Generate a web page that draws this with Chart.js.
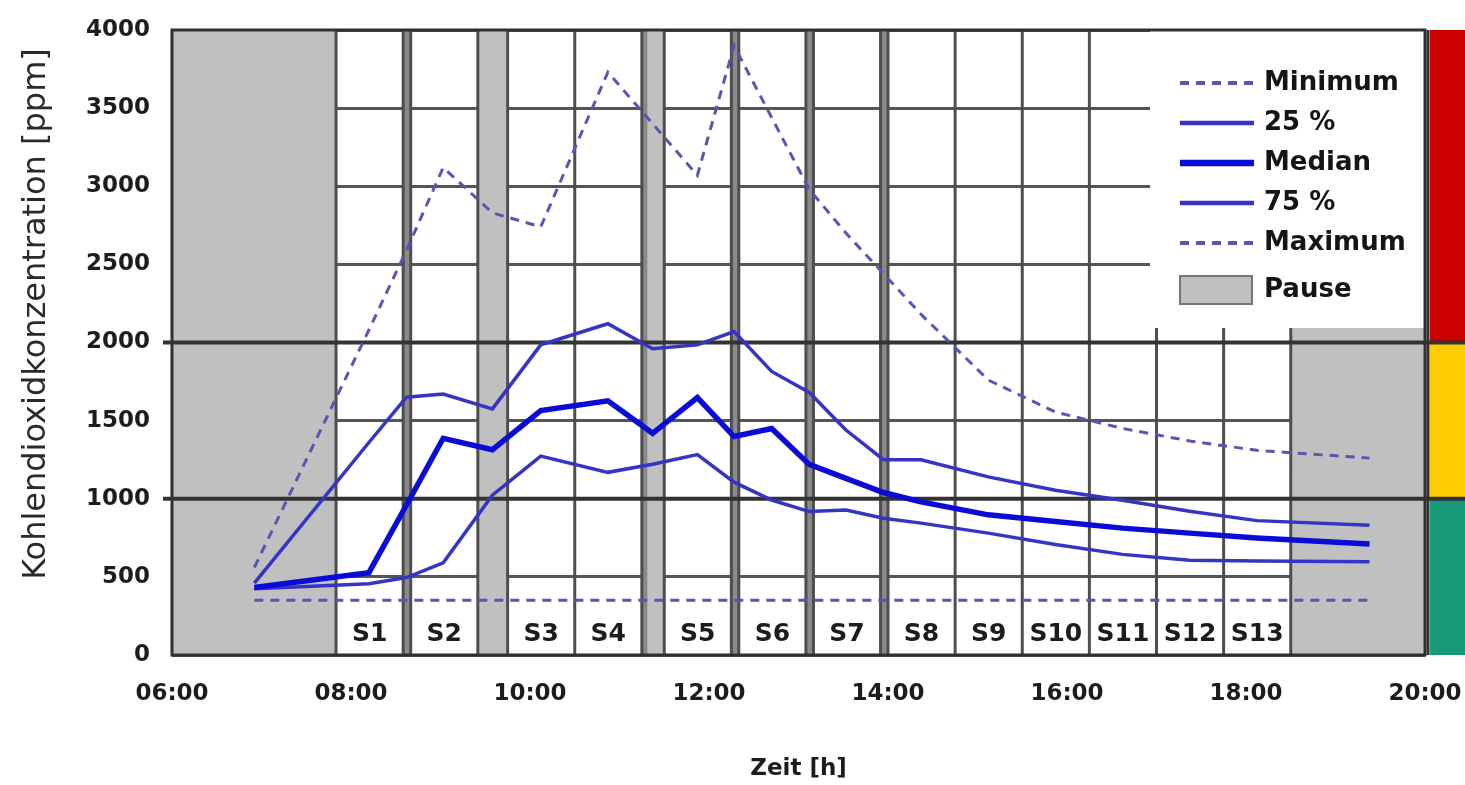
<!DOCTYPE html>
<html>
<head>
<meta charset="utf-8">
<script src="https://cdn.jsdelivr.net/npm/chart.js@4.4.0/dist/chart.umd.min.js"></script>
<style>
  html, body { margin: 0; padding: 0; background: #ffffff; }
  #wrap { position: relative; width: 1465px; height: 785px; }
</style>
</head>
<body>
<div id="wrap"><canvas id="c"></canvas></div>
<script>
// ---- data (time in decimal hours) ----
const timeHours  = [6.92, 8.2, 8.62, 9.03, 9.58, 10.12, 10.87, 11.37, 11.87, 12.28, 12.7, 13.12, 13.53, 13.95, 14.37, 15.12, 15.87, 16.62, 17.37, 18.12, 19.38];
const minVals    = [350, 350, 350, 350, 350, 350, 350, 350, 350, 350, 350, 350, 350, 350, 350, 350, 350, 350, 350, 350, 350];
const p25Vals    = [424, 456, 496, 590, 1023, 1273, 1169, 1221, 1283, 1106, 992, 918, 928, 875, 844, 780, 707, 644, 606, 601, 597];
const medianVals = [432, 527, 960, 1387, 1314, 1564, 1627, 1419, 1648, 1398, 1450, 1220, 1130, 1040, 980, 897, 854, 812, 780, 749, 711];
const p75Vals    = [460, 1360, 1650, 1670, 1575, 1985, 2120, 1960, 1985, 2070, 1815, 1680, 1440, 1250, 1250, 1140, 1055, 990, 920, 860, 830];
const maxVals    = [560, 2080, 2590, 3120, 2830, 2740, 3730, 3400, 3070, 3900, 3440, 2980, 2700, 2440, 2180, 1760, 1555, 1450, 1370, 1310, 1260];

const legendLabels = ['Minimum', '25 %', 'Median', '75 %', 'Maximum'];
const pauseLabel = 'Pause';
const yTitle = 'Kohlendioxidkonzentration [ppm]';
const xTitle = 'Zeit [h]';

const lessonLabels = ['S1','S2','S3','S4','S5','S6','S7','S8','S9','S10','S11','S12','S13'];
const lessonStart  = [7.833, 8.667, 9.75, 10.5, 11.5, 12.333, 13.167, 14.0, 14.75, 15.5, 16.25, 17.0, 17.75];
const lessonEnd    = [8.583, 9.417, 10.5, 11.25, 12.25, 13.083, 13.917, 14.75, 15.5, 16.25, 17.0, 17.75, 18.5];
const pauseStart   = [6, 9.417, 11.25, 18.5];
const pauseEnd     = [7.833, 9.75, 11.5, 20];
const breakStart   = [8.583, 11.25, 12.25, 13.083, 13.917];
const breakEnd     = [8.667, 11.3, 12.333, 13.167, 14.0];

const zoneFrom   = [2000, 1000, 0];
const zoneTo     = [4000, 2000, 1000];
const zoneColors = ['#cc0000', '#ffcc00', '#17997a'];
const thresholdVals = [1000, 2000];

const xMin = 6, xMax = 20, xStep = 2;
const yMin = 0, yMax = 4000, yStep = 500;
const lessonLabelValue = 130;

// ---- styles ----
const FONT = "'DejaVu Sans', 'Liberation Sans', sans-serif";
const styles = {
  'Minimum': { color: '#5656b4', width: 3, dash: [9, 7] },
  '25 %':    { color: '#3434c6', width: 3.5, dash: [] },
  'Median':  { color: '#0b0bd8', width: 5.5, dash: [] },
  '75 %':    { color: '#3434c6', width: 3.5, dash: [] },
  'Maximum': { color: '#5656b4', width: 3, dash: [9, 7] }
};
const seriesByLabel = { 'Minimum': minVals, '25 %': p25Vals, 'Median': medianVals, '75 %': p75Vals, 'Maximum': maxVals };
const drawOrder = ['Median', '25 %', '75 %', 'Maximum', 'Minimum']; // first = on top

const datasets = drawOrder.map(lbl => ({
  label: lbl,
  data: timeHours.map((t, i) => ({ x: t, y: seriesByLabel[lbl][i] })),
  borderColor: styles[lbl].color,
  backgroundColor: styles[lbl].color,
  borderWidth: styles[lbl].width,
  borderDash: styles[lbl].dash,
  pointRadius: 0,
  tension: 0,
  fill: false
}));

function line(ctx, x0, y0, x1, y1) { ctx.beginPath(); ctx.moveTo(x0, y0); ctx.lineTo(x1, y1); ctx.stroke(); }

const schoolPlugin = {
  id: 'school',
  beforeDatasetsDraw(chart) {
    const { ctx, chartArea: a, scales: { x, y } } = chart;
    const W = chart.width;
    const h = a.bottom - a.top;
    ctx.save();
    // pauses
    ctx.fillStyle = '#c0c0c0';
    pauseStart.forEach((s, i) => {
      const x0 = x.getPixelForValue(s), x1 = x.getPixelForValue(pauseEnd[i]);
      ctx.fillRect(x0, a.top, x1 - x0, h);
    });
    // short breaks
    ctx.fillStyle = '#8a8a8a';
    breakStart.forEach((s, i) => {
      const x0 = x.getPixelForValue(s), x1 = x.getPixelForValue(breakEnd[i]);
      ctx.fillRect(x0 - 1, a.top, x1 - x0 + 2, h);
    });
    // lesson boundaries
    ctx.strokeStyle = '#4e4e4e';
    ctx.lineWidth = 3;
    const vlines = [...new Set([...lessonStart, ...lessonEnd])];
    vlines.forEach(t => { const px = x.getPixelForValue(t); line(ctx, px, a.top, px, a.bottom); });
    // legend background box
    ctx.fillStyle = '#ffffff';
    ctx.fillRect(a.right - 275, a.top, 275, 298);
    // traffic light zones
    zoneFrom.forEach((f, i) => {
      const yt = y.getPixelForValue(zoneTo[i]), yb = y.getPixelForValue(f);
      ctx.fillStyle = zoneColors[i];
      ctx.fillRect(a.right + 5, yt, W - a.right - 5, yb - yt);
    });
    // threshold lines
    ctx.strokeStyle = '#333333';
    ctx.lineWidth = 4;
    thresholdVals.forEach(v => { const py = y.getPixelForValue(v); line(ctx, a.left - 9, py, W, py); });
    // plot border
    ctx.lineWidth = 3;
    ctx.strokeStyle = '#303030';
    ctx.strokeRect(a.left, a.top, a.right - a.left, h);
    line(ctx, a.right + 3, a.top, a.right + 3, a.bottom);
    // lesson labels
    ctx.fillStyle = '#1c1c1c';
    ctx.font = "bold 25px " + FONT;
    ctx.textAlign = 'center';
    ctx.textBaseline = 'middle';
    const ly = y.getPixelForValue(lessonLabelValue);
    lessonLabels.forEach((l, i) => {
      const cx = x.getPixelForValue((lessonStart[i] + lessonEnd[i]) / 2);
      ctx.fillText(l, cx, ly);
    });
    ctx.restore();
  },
  afterDraw(chart) {
    const { ctx, chartArea: a } = chart;
    ctx.save();
    // legend
    const sx0 = a.right - 245, sx1 = a.right - 171, tx = a.right - 161;
    ctx.font = "bold 26px " + FONT;
    ctx.textAlign = 'left';
    ctx.textBaseline = 'middle';
    legendLabels.forEach((lbl, i) => {
      const ds = chart.data.datasets.find(d => d.label === lbl);
      const ry = a.top + 53 + i * 40;
      ctx.strokeStyle = ds.borderColor;
      ctx.lineWidth = ds.borderWidth + 1;
      ctx.setLineDash(ds.borderDash || []);
      line(ctx, sx0, ry, sx1, ry);
      ctx.setLineDash([]);
      ctx.fillStyle = '#151515';
      ctx.fillText(lbl, tx, ry);
    });
    const py = a.top + 260;
    ctx.fillStyle = '#c0c0c0';
    ctx.fillRect(sx0, py - 14, sx1 - sx0 - 2, 28);
    ctx.strokeStyle = '#777777';
    ctx.lineWidth = 2;
    ctx.strokeRect(sx0, py - 14, sx1 - sx0 - 2, 28);
    ctx.fillStyle = '#151515';
    ctx.fillText(pauseLabel, tx, py);
    // y title
    ctx.translate(37, 314);
    ctx.rotate(-Math.PI / 2);
    ctx.font = "32px " + FONT;
    ctx.fillStyle = '#2a2a2a';
    ctx.textAlign = 'center';
    ctx.fillText(yTitle, 0, 0);
    ctx.restore();
  }
};

Chart.defaults.font.family = FONT;
Chart.defaults.color = '#1c1c1c';

new Chart(document.getElementById('c'), {
  type: 'line',
  data: { datasets },
  options: {
    responsive: true,
    maintainAspectRatio: false,
    animation: false,
    layout: { padding: { top: 30, right: 40, bottom: 0, left: 0 } },
    plugins: { legend: { display: false }, tooltip: { enabled: false } },
    scales: {
      x: {
        type: 'linear', min: xMin, max: xMax,
        ticks: {
          stepSize: xStep, padding: 25,
          font: { size: 23, weight: 'bold' }, color: '#1c1c1c',
          callback: v => (v < 10 ? '0' : '') + v + ':00',
          maxRotation: 0
        },
        grid: { display: false, drawTicks: false },
        border: { display: false },
        title: { display: true, text: xTitle, font: { size: 23, weight: 'bold' }, color: '#1c1c1c', padding: { top: 0, bottom: 2 } },
        afterFit: s => { s.height = 130; s.paddingLeft = 0; s.paddingRight = 0; }
      },
      y: {
        min: yMin, max: yMax,
        ticks: { stepSize: yStep, padding: 22, font: { size: 23, weight: 'bold' }, color: '#1c1c1c', callback: v => String(v) },
        grid: { color: '#555555', lineWidth: 3, drawTicks: false },
        border: { display: false },
        afterFit: s => { s.width = 172; s.paddingTop = 0; s.paddingBottom = 0; }
      }
    }
  },
  plugins: [schoolPlugin]
});
</script>
</body>
</html>
